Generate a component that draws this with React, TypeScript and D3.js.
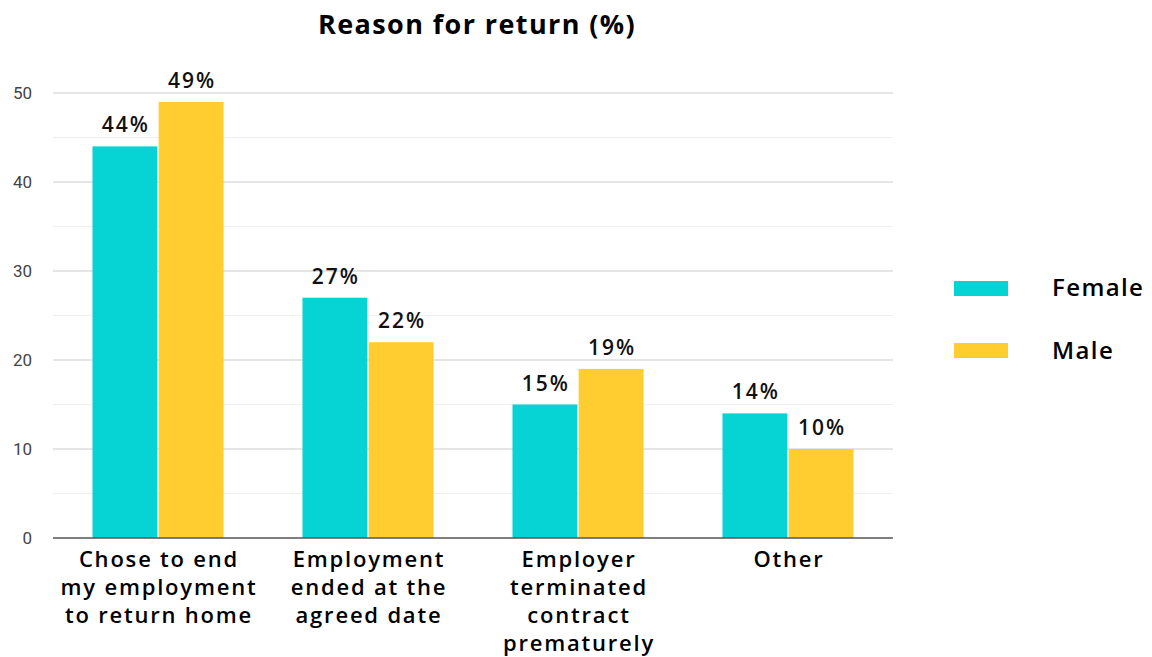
import React from "react";
import * as d3 from "d3";

const categories: string[][] = [
  ["Chose to end", "my employment", "to return home"],
  ["Employment", "ended at the", "agreed date"],
  ["Employer", "terminated", "contract", "prematurely"],
  ["Other"],
];
const seriesNames = ["Female", "Male"];
const female = [44, 27, 15, 14];
const male = [49, 22, 19, 10];
const yTicks = [0, 10, 20, 30, 40, 50];
const minorTicks = [5, 15, 25, 35, 45];
const colors = ["#06D3D3", "#FFCD2F"];

const W = 1152;
const H = 657;
const left = 53;
const right = 893;
const top = 93;
const bottom = 538;

export default function App() {
  const x = d3.scaleBand<number>().domain(d3.range(categories.length)).range([left, right]).paddingInner(0.376).paddingOuter(0.188);
  const x1 = d3.scaleBand<number>().domain([0, 1]).range([0, x.bandwidth()]).paddingInner(0.02);
  const y = d3.scaleLinear().domain([0, 50]).range([bottom, top]);
  const series = [female, male];
  const font = "'Open Sans', sans-serif";

  return (
    <svg width={W} height={H} style={{ position: "absolute", left: 0, top: 0, background: "#fff" }}>
      <rect width={W} height={H} fill="#fff" />
      <text x={477} y={34} textAnchor="middle" fontFamily={font} fontWeight={700} fontSize={27} letterSpacing={1.4} fill="#000">
        Reason for return (%)
      </text>
      {minorTicks.map((t) => (
        <line key={"m" + t} x1={left} x2={right} y1={y(t)} y2={y(t)} stroke="#efefef" strokeWidth={1} />
      ))}
      {yTicks.filter((t) => t > 0).map((t) => (
        <line key={"g" + t} x1={left} x2={right} y1={y(t)} y2={y(t)} stroke="#dcdcdc" strokeWidth={1.3} />
      ))}
      {yTicks.map((t) => (
        <text key={"t" + t} x={32} y={y(t)} dy="0.36em" textAnchor="end" fontFamily="Roboto, sans-serif" fontSize={17} fill="#444">
          {t}
        </text>
      ))}
      {series.map((vals, si) =>
        vals.map((v, ci) => {
          const bx = (x(ci) as number) + (x1(si) as number);
          const bw = x1.bandwidth();
          return (
            <g key={`b${si}-${ci}`}>
              <rect x={bx} y={y(v)} width={bw} height={y(0) - y(v)} fill={colors[si]} />
              <text x={bx + bw / 2 + 1} y={y(v) - 14} textAnchor="middle" fontFamily={font} fontWeight={600} fontSize={21} letterSpacing={2} fill="#111">
                {v}%
              </text>
            </g>
          );
        })
      )}
      <line x1={left} x2={right} y1={bottom} y2={bottom} stroke="#555" strokeWidth={1.5} />
      {categories.map((lines, ci) => (
        <text key={"c" + ci} textAnchor="middle" fontFamily={font} fontWeight={600} fontSize={22} letterSpacing={1.8} fill="#000">
          {lines.map((l, li) => (
            <tspan key={li} x={(x(ci) as number) + x.bandwidth() / 2 + 1} y={567 + li * 28}>
              {l}
            </tspan>
          ))}
        </text>
      ))}
      {seriesNames.map((n, i) => (
        <g key={n}>
          <rect x={954} y={281 + i * 62} width={54} height={15} fill={colors[i]} />
          <text x={1052} y={296 + i * 63} fontFamily={font} fontWeight={600} fontSize={24} letterSpacing={1.4} fill="#000">
            {n}
          </text>
        </g>
      ))}
    </svg>
  );
}
